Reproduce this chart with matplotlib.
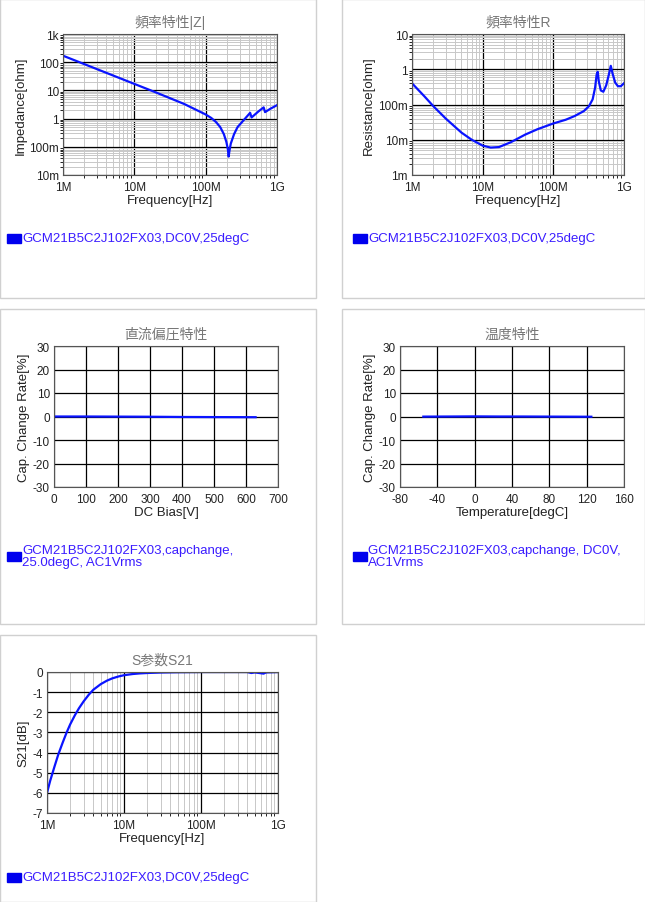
import numpy as np
import matplotlib.pyplot as plt
from matplotlib.patches import Rectangle
from matplotlib.ticker import FixedLocator, LogLocator, NullFormatter, MultipleLocator

plt.rcParams['font.family'] = ['Liberation Sans', 'Noto Sans CJK JP']
plt.rcParams['axes.unicode_minus'] = False

LEGEND_BODY = 'GCM21B5C2J102FX03,DC0V,25degC'

# |Z| vs frequency
z_freq = [1e6, 2e6, 5e6, 1e7, 2e7, 5e7, 1e8, 1.2e8, 1.4e8, 1.6e8, 1.8e8, 1.95e8, 2.05e8, 2.1e8, 2.15e8,
          2.25e8, 2.5e8, 2.8e8, 3.3e8, 4.2e8, 4.4e8, 5.5e8, 6.5e8, 6.8e8, 8e8, 1e9]
z_val = [170, 85, 34, 17, 8.5, 3.3, 1.4, 1.05, 0.75, 0.5, 0.28, 0.15, 0.08, 0.045, 0.07,
         0.13, 0.28, 0.5, 0.8, 1.6, 1.1, 1.8, 2.5, 1.7, 2.2, 3.0]

# R vs frequency
r_freq = [1e6, 1.5e6, 2e6, 3e6, 5e6, 7e6, 1e7, 1.3e7, 1.7e7, 2.5e7, 4e7, 6e7, 1e8, 1.5e8, 2e8, 2.7e8,
          3.2e8, 3.6e8, 3.9e8, 4.1e8, 4.25e8, 4.4e8, 4.7e8, 5.1e8, 5.6e8, 6.1e8, 6.5e8, 6.9e8, 7.5e8,
          8.2e8, 9e8, 1e9]
r_val = [0.4, 0.17, 0.09, 0.04, 0.016, 0.01, 0.0068, 0.006, 0.0062, 0.0085, 0.014, 0.02, 0.029, 0.037,
         0.047, 0.065, 0.09, 0.14, 0.3, 0.7, 0.85, 0.45, 0.25, 0.23, 0.35, 0.7, 1.25, 0.75, 0.42,
         0.33, 0.33, 0.4]

# DC bias
dc_v = [0, 100, 200, 300, 400, 500, 630]
dc_rate = [0.0, 0.0, -0.05, -0.1, -0.2, -0.25, -0.3]

# Temperature
temp_c = [-55, -25, 0, 25, 50, 85, 125]
temp_rate = [-0.05, 0.0, 0.05, 0.0, 0.0, -0.05, -0.1]

# S21
s_freq = [1e6, 1.1e6, 1.25e6, 1.4e6, 1.6e6, 1.8e6, 2e6, 2.3e6, 2.6e6, 3e6, 3.5e6, 4e6, 5e6, 6e6, 7e6,
          8.5e6, 1e7, 1.3e7, 1.6e7, 2e7, 3e7, 5e7, 1e8, 4e8, 4.5e8, 5e8, 6.5e8, 7e8, 1e9]
s21 = [-6.0, -5.4, -4.7, -4.1, -3.5, -3.0, -2.6, -2.15, -1.8, -1.45, -1.12, -0.88, -0.6, -0.43, -0.32,
       -0.22, -0.16, -0.1, -0.07, -0.05, -0.025, -0.01, 0.0, 0.0, -0.05, -0.02, -0.08, -0.02, 0.0]

W, H = 645, 903
fig = plt.figure(figsize=(6.45, 9.03), dpi=100)
fig.patch.set_facecolor('white')

def box(x0, y0, x1, y1):
    fig.patches.append(Rectangle((x0 / W, 1 - y1 / H), (x1 - x0) / W, (y1 - y0) / H,
                                 transform=fig.transFigure, fill=False, ec='#d0d0d0', lw=1))

def ax_at(x0, y0, x1, y1):
    return fig.add_axes([x0 / W, 1 - y1 / H, (x1 - x0) / W, (y1 - y0) / H])

def style(ax, title, xlabel, ylabel):
    ax.set_title(title, color='#777777', fontsize=10, pad=6)
    ax.set_xlabel(xlabel, fontsize=9.5, labelpad=1, color='#222222')
    ax.set_ylabel(ylabel, fontsize=9.5, labelpad=2, color='#222222')
    ax.tick_params(labelsize=8.5, length=0, colors='#222222')
    ax.tick_params(axis='x', pad=4)
    ax.tick_params(axis='y', pad=3)
    for s in ax.spines.values():
        s.set_color('#555555')

def legend(x, y, lines):
    fig.patches.append(Rectangle((x / W, 1 - (y + 5) / H), 14 / W, 9 / H,
                                 transform=fig.transFigure, color='#0000ee'))
    fig.text((x + 15) / W, 1 - y / H, lines, color='#3a1cff', fontsize=9.5,
             va='center', linespacing=0.95)

def logx(ax):
    ax.set_xscale('log')
    ax.set_xlim(1e6, 1e9)
    ax.xaxis.set_major_locator(FixedLocator([1e6, 1e7, 1e8, 1e9]))
    ax.set_xticklabels(['1M', '10M', '100M', '1G'])
    ax.xaxis.set_minor_locator(LogLocator(subs=np.arange(2, 10)))
    ax.xaxis.set_minor_formatter(NullFormatter())

def grids(ax):
    ax.grid(True, which='minor', color='#c8c8c8', lw=0.7)
    ax.grid(True, which='major', color='black', lw=0.9)
    ax.set_axisbelow(True)

def logy(ax, lo, hi, labels):
    ax.set_yscale('log')
    ax.set_ylim(lo, hi)
    ticks = [lo * 10 ** i for i in range(len(labels))]
    ax.yaxis.set_major_locator(FixedLocator(ticks))
    ax.set_yticklabels(labels)
    ax.yaxis.set_minor_locator(LogLocator(subs=np.arange(2, 10)))
    ax.yaxis.set_minor_formatter(NullFormatter())

box(0, 0, 316, 299)
box(342, 0, 645, 299)
box(0, 310, 316, 625)
box(342, 310, 645, 625)
box(0, 636, 316, 903)

# panel 1
ax = ax_at(63, 35, 277, 176)
logx(ax); logy(ax, 0.01, 1000, ['10m', '100m', '1', '10', '100', '1k'])
grids(ax)
ax.plot(z_freq, z_val, color='#0a14ff', lw=1.6)
style(ax, '頻率特性|Z|', 'Frequency[Hz]', 'Impedance[ohm]')
legend(7, 239, LEGEND_BODY)

# panel 2
ax = ax_at(412, 35, 624, 176)
logx(ax); logy(ax, 0.001, 10, ['1m', '10m', '100m', '1', '10'])
grids(ax)
ax.plot(r_freq, r_val, color='#0a14ff', lw=1.6)
style(ax, '頻率特性R', 'Frequency[Hz]', 'Resistance[ohm]')
legend(353, 239, LEGEND_BODY)

# panel 3
ax = ax_at(54, 347, 278, 488)
ax.set_xlim(0, 700); ax.set_ylim(-30, 30)
ax.xaxis.set_major_locator(MultipleLocator(100))
ax.yaxis.set_major_locator(MultipleLocator(10))
ax.grid(True, color='black', lw=0.9)
ax.plot(dc_v, dc_rate, color='#0a14ff', lw=1.6)
style(ax, '直流偏圧特性', 'DC Bias[V]', 'Cap. Change Rate[%]')
legend(7, 557, 'GCM21B5C2J102FX03,capchange,\n25.0degC, AC1Vrms')

# panel 4
ax = ax_at(400, 347, 624, 488)
ax.set_xlim(-80, 160); ax.set_ylim(-30, 30)
ax.xaxis.set_major_locator(MultipleLocator(40))
ax.yaxis.set_major_locator(MultipleLocator(10))
ax.grid(True, color='black', lw=0.9)
ax.plot(temp_c, temp_rate, color='#0a14ff', lw=1.6)
style(ax, '温度特性', 'Temperature[degC]', 'Cap. Change Rate[%]')
legend(353, 557, 'GCM21B5C2J102FX03,capchange, DC0V,\nAC1Vrms')

# panel 5
ax = ax_at(47, 673, 278, 814)
logx(ax)
ax.set_ylim(-7, 0)
ax.yaxis.set_major_locator(MultipleLocator(1))
grids(ax)
ax.plot(s_freq, s21, color='#0a14ff', lw=1.6)
style(ax, 'S参数S21', 'Frequency[Hz]', 'S21[dB]')
legend(7, 878, LEGEND_BODY)

fig.savefig('out.png', dpi=100)
